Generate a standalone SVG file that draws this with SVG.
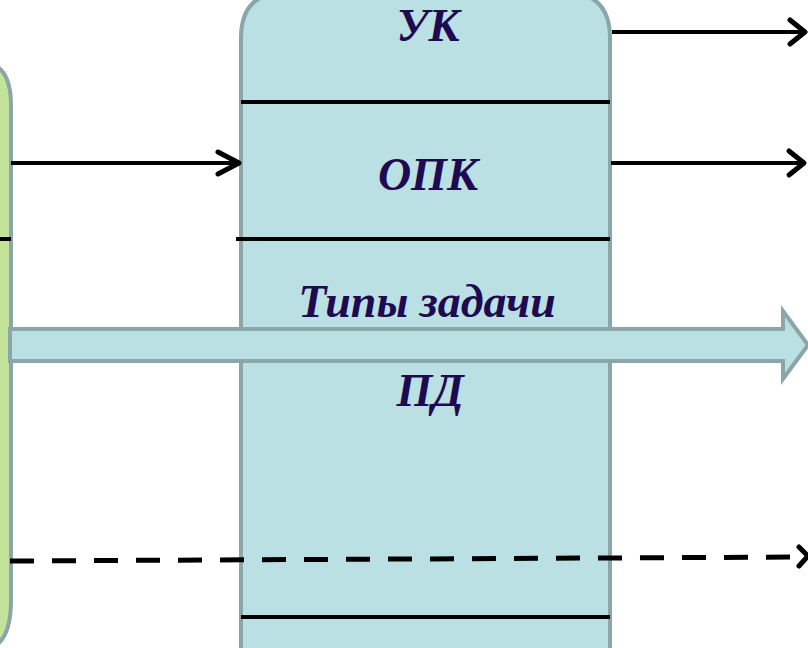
<svg xmlns="http://www.w3.org/2000/svg" width="808" height="648" viewBox="0 0 808 648">
<style>
.box{stroke:#8aa6a8;stroke-width:4}
.line{stroke:#000;stroke-width:4;fill:none}
.conn{stroke:#000;stroke-width:4;fill:none}
.head{stroke:#000;stroke-width:5;fill:none;stroke-linecap:round;stroke-linejoin:round}
.lbl{font-family:"Liberation Serif","Times New Roman",serif;font-weight:bold;font-style:italic;font-size:46px;fill:#1f0a52;text-anchor:middle}
</style>
<rect width="808" height="648" fill="#fff"/>
<g id="left-block">
<path class="box" d="M-40 660 L-40 70 Q-40 62 -20 62 L-20 62 Q11 62 11 105 L11 600 Q11 650 -20 650" fill="#c3e39b"/>
<line class="line" x1="-2" y1="239" x2="11" y2="239"/>
</g>
<g id="main-block">
<path class="box" d="M241 660 L241 38 Q241 -8 287 -8 L564 -8 Q610 -8 610 38 L610 660 Z" fill="#bae0e3"/>
<line class="line" x1="241" y1="102" x2="610" y2="102"/>
<line class="line" x1="236" y1="239" x2="610" y2="239"/>
<line class="line" x1="241" y1="617" x2="610" y2="617"/>
<text class="lbl" x="428" y="41">УК</text>
<text class="lbl" x="428" y="190">ОПК</text>
<text class="lbl" x="427" y="317">Типы задачи</text>
<text class="lbl" x="430" y="406">ПД</text>
</g>
<g id="wide-arrow">
<path class="box" d="M10 329 L783 329 L783 311 L808 345 L783 379 L783 361 L10 361 Z" fill="#bae0e3"/>
</g>
<g id="connectors">
<line class="conn" x1="612" y1="32" x2="804" y2="32"/>
<path class="head" d="M790 20 L805 32 L790 44"/>
<line class="conn" x1="611" y1="163" x2="804" y2="163"/>
<path class="head" d="M789 151 L804 163 L789 175"/>
<line class="conn" x1="11" y1="163" x2="238" y2="163"/>
<path class="head" d="M218 152 L239 163 L218 174"/>
<line x1="10" y1="561" x2="802" y2="557" stroke="#000" stroke-width="5" stroke-dasharray="24 18"/>
<path class="head" d="M799 547 L808 556 L799 566"/>
</g>
</svg>
